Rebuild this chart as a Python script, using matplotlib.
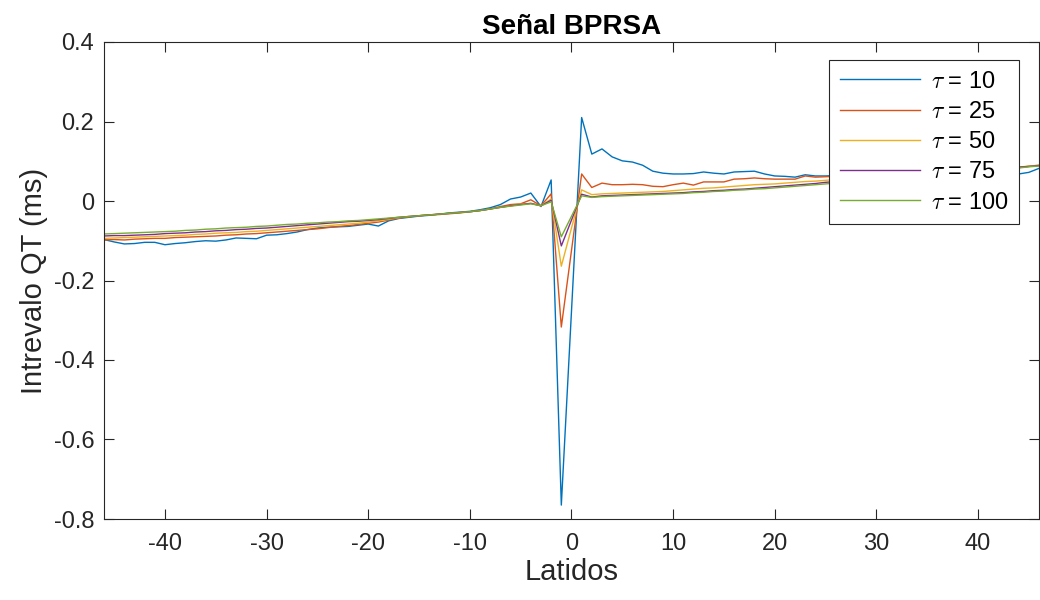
import numpy as np
import matplotlib
matplotlib.use("Agg")
import matplotlib.pyplot as plt

plt.rcParams['font.family'] = ['Liberation Sans', 'DejaVu Sans']
plt.rcParams['axes.unicode_minus'] = False
plt.rcParams['mathtext.fontset'] = 'cm'

# latidos: -46..-1 y 1..46
latidos = list(range(-46, 0)) + list(range(1, 47))

# tau = 10
bprsa_10 = [-0.097, -0.103, -0.108, -0.107, -0.104, -0.104, -0.110, -0.107, -0.105, -0.102,
            -0.100, -0.101, -0.098, -0.093, -0.094, -0.095, -0.086, -0.085, -0.082, -0.078,
            -0.072, -0.068, -0.066, -0.065, -0.064, -0.061, -0.058, -0.063, -0.050, -0.044,
            -0.041, -0.038, -0.036, -0.033, -0.030, -0.028, -0.026, -0.022, -0.017, -0.009,
            0.005, 0.010, 0.020, -0.014, 0.053, -0.765,
            0.210, 0.118, 0.131, 0.111, 0.101, 0.098, 0.090, 0.075, 0.070, 0.068,
            0.068, 0.069, 0.073, 0.070, 0.068, 0.073, 0.074, 0.075, 0.068, 0.063,
            0.062, 0.060, 0.066, 0.063, 0.063, 0.064, 0.066, 0.065, 0.063, 0.064,
            0.066, 0.067, 0.065, 0.064, 0.066, 0.068, 0.067, 0.065, 0.064, 0.066,
            0.067, 0.066, 0.065, 0.068, 0.072, 0.082]

# tau = 25
bprsa_25 = [-0.098, -0.097, -0.098, -0.096, -0.095, -0.094, -0.094, -0.092, -0.091, -0.090,
            -0.089, -0.088, -0.086, -0.085, -0.083, -0.082, -0.080, -0.078, -0.076, -0.074,
            -0.072, -0.070, -0.067, -0.064, -0.062, -0.059, -0.056, -0.053, -0.048, -0.043,
            -0.040, -0.037, -0.035, -0.034, -0.032, -0.030, -0.027, -0.024, -0.020, -0.014,
            -0.009, -0.007, 0.003, -0.012, 0.018, -0.317,
            0.068, 0.034, 0.045, 0.041, 0.041, 0.042, 0.041, 0.037, 0.036, 0.041,
            0.045, 0.040, 0.048, 0.048, 0.048, 0.055, 0.056, 0.058, 0.056, 0.055,
            0.055, 0.055, 0.063, 0.060, 0.061, 0.062, 0.063, 0.064, 0.065, 0.066,
            0.067, 0.068, 0.069, 0.070, 0.071, 0.072, 0.073, 0.074, 0.075, 0.077,
            0.078, 0.080, 0.082, 0.084, 0.087, 0.090]

# tau = 50
bprsa_50 = [-0.094, -0.093, -0.092, -0.091, -0.090, -0.089, -0.088, -0.087, -0.086, -0.084,
            -0.083, -0.081, -0.080, -0.079, -0.077, -0.076, -0.074, -0.072, -0.070, -0.068,
            -0.066, -0.064, -0.062, -0.060, -0.058, -0.056, -0.053, -0.050, -0.046, -0.042,
            -0.039, -0.037, -0.035, -0.033, -0.031, -0.029, -0.027, -0.024, -0.020, -0.016,
            -0.012, -0.008, -0.006, -0.012, 0.005, -0.164,
            0.028, 0.016, 0.018, 0.019, 0.020, 0.021, 0.022, 0.023, 0.024, 0.026,
            0.028, 0.030, 0.032, 0.033, 0.035, 0.037, 0.039, 0.041, 0.042, 0.043,
            0.045, 0.047, 0.049, 0.050, 0.052, 0.054, 0.055, 0.057, 0.059, 0.060,
            0.062, 0.063, 0.065, 0.066, 0.068, 0.069, 0.071, 0.072, 0.074, 0.076,
            0.078, 0.080, 0.082, 0.085, 0.088, 0.090]

# tau = 75
bprsa_75 = [-0.088, -0.087, -0.087, -0.086, -0.085, -0.084, -0.082, -0.081, -0.080, -0.078,
            -0.077, -0.075, -0.074, -0.072, -0.071, -0.069, -0.068, -0.066, -0.064, -0.062,
            -0.060, -0.058, -0.056, -0.054, -0.052, -0.051, -0.049, -0.047, -0.044, -0.041,
            -0.039, -0.037, -0.035, -0.033, -0.031, -0.029, -0.027, -0.024, -0.020, -0.016,
            -0.012, -0.009, -0.006, -0.012, 0.002, -0.113,
            0.017, 0.010, 0.013, 0.014, 0.015, 0.016, 0.017, 0.018, 0.019, 0.020,
            0.021, 0.023, 0.024, 0.026, 0.027, 0.029, 0.030, 0.032, 0.034, 0.036,
            0.038, 0.040, 0.042, 0.044, 0.047, 0.049, 0.051, 0.053, 0.055, 0.057,
            0.059, 0.061, 0.063, 0.065, 0.067, 0.069, 0.071, 0.073, 0.075, 0.077,
            0.079, 0.081, 0.083, 0.085, 0.087, 0.089]

# tau = 100
bprsa_100 = [-0.083, -0.082, -0.081, -0.080, -0.079, -0.078, -0.077, -0.076, -0.074, -0.073,
             -0.071, -0.070, -0.068, -0.067, -0.066, -0.064, -0.063, -0.061, -0.059, -0.058,
             -0.056, -0.055, -0.053, -0.052, -0.050, -0.049, -0.047, -0.045, -0.043, -0.041,
             -0.039, -0.037, -0.035, -0.033, -0.031, -0.029, -0.027, -0.024, -0.020, -0.016,
             -0.013, -0.010, -0.007, -0.012, -0.002, -0.090,
             0.013, 0.009, 0.011, 0.012, 0.013, 0.014, 0.015, 0.016, 0.017, 0.018,
             0.019, 0.021, 0.022, 0.024, 0.025, 0.027, 0.028, 0.030, 0.031, 0.033,
             0.035, 0.037, 0.039, 0.041, 0.043, 0.045, 0.047, 0.049, 0.051, 0.053,
             0.055, 0.057, 0.059, 0.061, 0.063, 0.065, 0.067, 0.069, 0.071, 0.073,
             0.075, 0.077, 0.080, 0.083, 0.086, 0.088]

series = [bprsa_10, bprsa_25, bprsa_50, bprsa_75, bprsa_100]
etiquetas = [r'$\tau$ = 10', r'$\tau$ = 25', r'$\tau$ = 50', r'$\tau$ = 75', r'$\tau$ = 100']
colores = ['#0072BD', '#D95319', '#EDB120', '#7E2F8E', '#77AC30']

x_ticks = [-40, -30, -20, -10, 0, 10, 20, 30, 40]
y_ticks = [-0.8, -0.6, -0.4, -0.2, 0, 0.2, 0.4]
y_ticklabels = ['-0.8', '-0.6', '-0.4', '-0.2', '0', '0.2', '0.4']

fig = plt.figure(figsize=(10.4, 6), dpi=100)
ax = fig.add_axes([0.1, 0.135, 0.899, 0.795])

for y, lab, c in zip(series, etiquetas, colores):
    ax.plot(latidos, y, color=c, lw=1.0, label=lab)

ax.set_xlim(-46, 46)
ax.set_ylim(-0.8, 0.4)
ax.set_xticks(x_ticks)
ax.set_yticks(y_ticks)
ax.set_yticklabels(y_ticklabels)
ax.tick_params(direction='in', top=True, right=True, length=7, width=0.8,
               colors='#262626', labelsize=17, labelcolor='#262626')
ax.tick_params(axis='x', pad=10)
ax.tick_params(axis='y', pad=7)
for s in ax.spines.values():
    s.set_color('#262626')
    s.set_linewidth(0.8)

ax.set_xlabel('Latidos', fontsize=21, color='#262626', labelpad=2)
ax.set_ylabel('Intrevalo QT (ms)', fontsize=21, color='#262626', labelpad=4)
ax.set_title('Señal BPRSA', fontsize=20, fontweight='bold', pad=6)

leg = ax.legend(loc='upper right', bbox_to_anchor=(0.9786, 0.9623), borderaxespad=0,
                fontsize=17, frameon=True, fancybox=False, framealpha=1,
                edgecolor='#262626', handlelength=3.4, borderpad=0.45,
                labelspacing=0.35, handletextpad=0.45)
leg.get_frame().set_linewidth(0.8)

fig.savefig('out.png', dpi=100)
